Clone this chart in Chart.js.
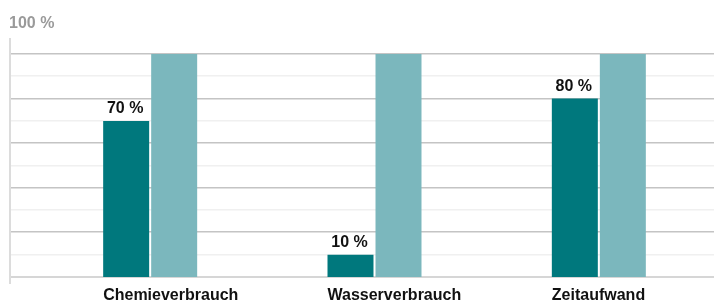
<!DOCTYPE html>
<html>
<head>
<meta charset="utf-8">
<script src="https://cdn.jsdelivr.net/npm/chart.js@4"></script>
<style>
  html, body { margin: 0; padding: 0; background: #fff; }
  #wrap { width: 714px; height: 303px; }
</style>
</head>
<body>
<div id="wrap"><canvas id="chart"></canvas></div>
<script>
const categories = ["Chemieverbrauch", "Wasserverbrauch", "Zeitaufwand"];
const savedValues = [70, 10, 80];
const referenceValues = [100, 100, 100];
const gridValues = [0, 10, 20, 30, 40, 50, 60, 70, 80, 90, 100];
const topLabel = "100 %";

const FONT = "'Liberation Sans', Arial, Helvetica, sans-serif";

// grid + axis line across the full width, like the original
const gridPlugin = {
  id: "fullGrid",
  beforeDatasetsDraw(chart) {
    const { ctx, scales } = chart;
    const y = scales.y;
    ctx.save();
    gridValues.forEach((v) => {
      const py = Math.round(y.getPixelForValue(v));
      if (v === 0) {
        ctx.fillStyle = "#d6d6d6";
        ctx.fillRect(10, py - 1, chart.width - 10, 2);
      } else if (v % 20 === 0) {
        ctx.fillStyle = "#c4c4c4";
        ctx.fillRect(10, py - 1, chart.width - 10, 1.5);
      } else {
        ctx.fillStyle = "#f0f0f0";
        ctx.fillRect(10, py - 1, chart.width - 10, 1.5);
      }
    });
    // vertical axis line
    ctx.fillStyle = "#dcdcdc";
    ctx.fillRect(9, 38, 2, 246);
    // top label
    ctx.fillStyle = "#9a9a9a";
    ctx.font = "bold 16px " + FONT;
    ctx.textBaseline = "alphabetic";
    ctx.textAlign = "left";
    ctx.fillText(topLabel, 9, 28);
    ctx.restore();
  },
};

// value labels above the dark bars, category names left-aligned under them
const valueLabels = {
  id: "valueLabels",
  afterDatasetsDraw(chart) {
    const { ctx } = chart;
    const meta = chart.getDatasetMeta(0);
    ctx.save();
    ctx.fillStyle = "#111";
    ctx.font = "bold 16px " + FONT;
    ctx.textBaseline = "alphabetic";
    meta.data.forEach((bar, i) => {
      ctx.textAlign = "center";
      ctx.fillText(savedValues[i] + " %", bar.x - 1, bar.y - 8);
      ctx.textAlign = "left";
      ctx.fillText(categories[i], bar.x - bar.width / 2, 300);
    });
    ctx.restore();
  },
};

new Chart(document.getElementById("chart"), {
  type: "bar",
  data: {
    labels: categories,
    datasets: [
      {
        data: savedValues,
        backgroundColor: "#00787d",
        categoryPercentage: 0.428,
        barPercentage: 0.958,
      },
      {
        data: referenceValues,
        backgroundColor: "#7bb7bd",
        categoryPercentage: 0.428,
        barPercentage: 0.958,
      },
    ],
  },
  options: {
    responsive: true,
    maintainAspectRatio: false,
    animation: false,
    layout: { padding: { left: 10, right: 3, top: 54, bottom: 0 } },
    plugins: {
      legend: { display: false },
      tooltip: { enabled: false },
      title: { display: false },
    },
    scales: {
      x: {
        grid: { display: false, drawTicks: false },
        border: { display: false },
        ticks: { display: false },
        afterFit(scale) {
          scale.height = 26;
        },
      },
      y: {
        min: 0,
        max: 100,
        grid: { display: false, drawTicks: false },
        border: { display: false },
        ticks: { display: false, stepSize: 10 },
        afterFit(scale) {
          scale.width = 28;
        },
      },
    },
  },
  plugins: [gridPlugin, valueLabels],
});
</script>
</body>
</html>
